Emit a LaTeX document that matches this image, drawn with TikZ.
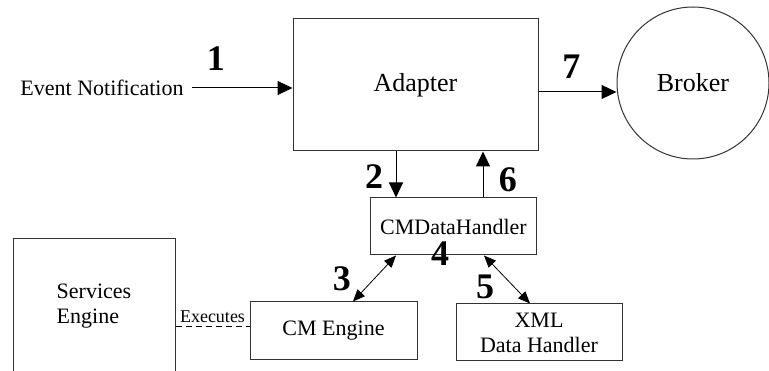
\documentclass[tikz,border=0pt]{standalone}
\usepackage{fontspec}
\setmainfont{Liberation Serif}
\usetikzlibrary{shapes}
\usetikzlibrary{arrows.meta}
\tikzset{
  font={\fontsize{22pt}{25}\selectfont}}

\begin{document}
\begin{tikzpicture}[x=1pt, y=-1pt, line width=1pt]

    \tikzset{edge/.style = {->,> = {Triangle[length=15pt,width=14pt]}}}
    \tikzset{twoway/.style = {<->,> = {Triangle[length=12pt,width=10pt]}, line width=0.8pt}}
    \tikzset{block/.style = {draw=black!80, rectangle, inner sep=0pt}}
    \tikzset{num/.style = {font={\fontsize{36pt}{36}\selectfont\bfseries}}}

    \useasboundingbox (0,0) rectangle (769,371);

    % vertices
    \node[block, minimum width=245pt, minimum height=132pt] (adapter)
        at (415.5,85) {\fontsize{26pt}{28}\selectfont Adapter};
    \node[circle, draw=black!80, minimum size=152pt, inner sep=0pt] (broker)
        at (693,83) {\fontsize{26pt}{28}\selectfont Broker};
    \node (event) at (102,88) {Event Notification};
    \node[block, minimum width=166pt, minimum height=57pt] (cmdh)
        at (453.5,226.5) {CMDataHandler};
    \node[block, minimum width=162pt, minimum height=134pt, align=left] (services)
        at (94,306) {Services\\Engine};
    \node[block, minimum width=167pt, minimum height=58pt] (cme)
        at (333.5,331) {CM Engine};
    \node[block, minimum width=166pt, minimum height=57pt, align=center] (xml)
        at (539,332.5) {XML\\Data Handler};
    \node[num] (n4) at ([xshift=-13.5pt, yshift=2pt]cmdh.south) {4};

    \coordinate (out7) at ([yshift=-7pt]adapter.east);
    \coordinate (top2) at ([xshift=-19.5pt]adapter.south);
    \coordinate (bot6) at ([xshift=29.5pt]cmdh.north);
    \coordinate (exe) at ([yshift=4pt]cme.west);

    %edges
    \draw[edge, shorten <=5pt] (event.east) to node [pos=0.27, above=14pt, num] {1} (event.east -| adapter.west);
    \draw[edge] (out7) to node [pos=0.42, above=10pt, num] {7} (out7 -| broker.west);
    \draw[edge] (top2) to node [pos=0.55, left=9pt, num] {2} (top2 |- cmdh.north);
    \draw[edge] (bot6) to node [pos=0.38, right=12pt, num] {6} (bot6 |- adapter.south);
    \draw[twoway] ([xshift=-57.5pt]cmdh.south) to node [pos=0.5, left=20pt, num] {3} ([xshift=19.5pt]cme.north);
    \draw[twoway] ([xshift=30.5pt]cmdh.south) to node [pos=0.65, left=16pt, num] {5} ([xshift=-9pt]xml.north);
    \draw[dashed, dash pattern=on 6pt off 4pt] (exe -| services.east) to node [above, font={\fontsize{18pt}{20}\selectfont}] {Executes} (exe);

\end{tikzpicture}
\end{document}
